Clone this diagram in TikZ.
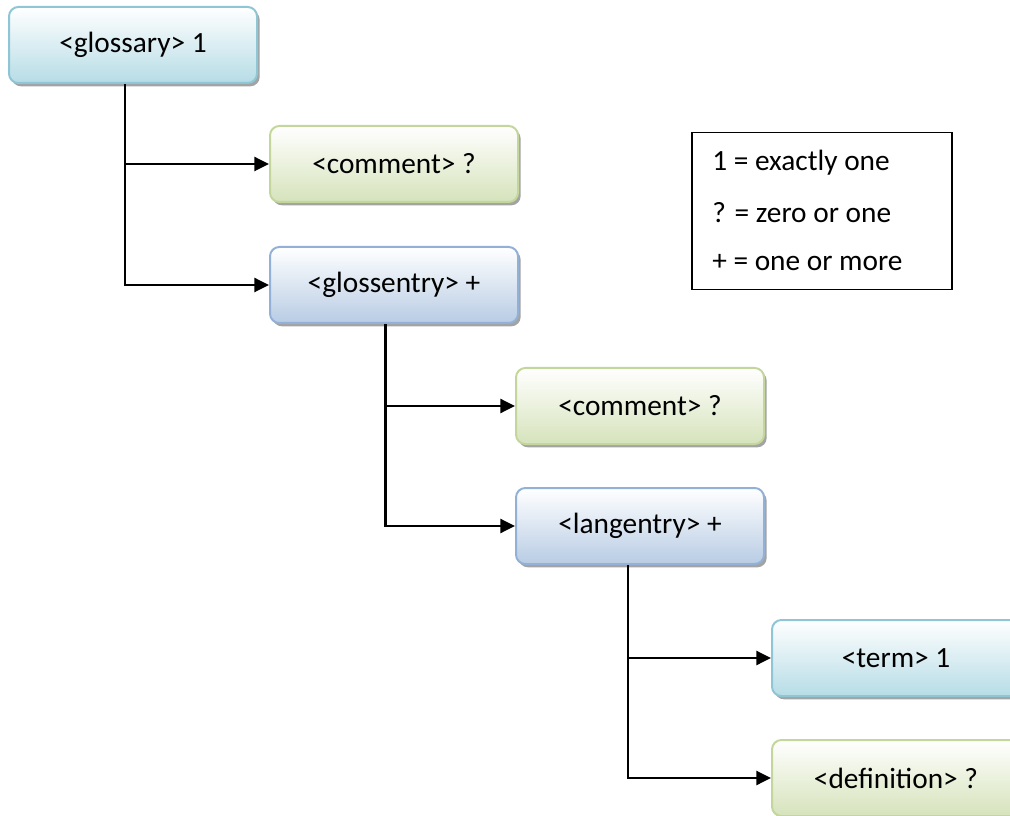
\documentclass[tikz,border=0pt]{standalone}
\usepackage{fontspec}
\setmainfont{Carlito}
\usetikzlibrary{arrows.meta,shadows,calc}
\definecolor{cyanB}{HTML}{8EC6D6}
\definecolor{cyanF}{HTML}{B6DCE6}
\definecolor{greenB}{HTML}{C3D69B}
\definecolor{greenF}{HTML}{D6E3BB}
\definecolor{blueB}{HTML}{93B1D6}
\definecolor{blueF}{HTML}{B8CCE4}
\tikzset{
  box/.style={rounded corners=7pt, minimum width=186pt, minimum height=57pt,
    line width=1.5pt, font=\fontsize{22}{26}\selectfont, inner sep=0pt,
    drop shadow={shadow xshift=2pt, shadow yshift=-2.5pt, fill=black!45, opacity=0.8}},
  cyanbox/.style={box, draw=cyanB, top color=white, bottom color=cyanF},
  greenbox/.style={box, draw=greenB, top color=white, bottom color=greenF},
  bluebox/.style={box, draw=blueB, top color=white, bottom color=blueF},
  conn/.style={line width=1.8pt, -{Triangle[length=11pt,width=10.5pt]}},
  legtext/.style={anchor=west, font=\fontsize{22}{26}\selectfont, inner sep=0pt},
}
\begin{document}
\begin{tikzpicture}[x=0.75pt,y=-0.75pt]
\useasboundingbox (0,0) rectangle (1010,816);
\clip (0,0) rectangle (1010,816);
\node[cyanbox] (g) at (133,45) {<glossary> 1};
\node[greenbox] (c1) at (394,164) {<comment> ?};
\node[bluebox] (ge) at (394,285) {<glossentry> +};
\node[greenbox] (c2) at (640,406) {<comment> ?};
\node[bluebox] (le) at (640,526) {<langentry> +};
\node[cyanbox] (t) at (896,658) {<term> 1};
\node[greenbox] (d) at (896,778) {<definition> ?};

\draw[conn] ([xshift=-6pt]g.south) |- (c1.west);
\draw[conn] ([xshift=-6pt]g.south) |- (ge.west);
\draw[conn] ([xshift=-6.5pt]ge.south) |- (c2.west);
\draw[conn] ([xshift=-6.5pt]ge.south) |- (le.west);
\draw[conn] ([xshift=-9pt]le.south) |- (t.west);
\draw[conn] ([xshift=-9pt]le.south) |- (d.west);

\node[draw=black, line width=1pt, minimum width=195pt, minimum height=118pt, inner sep=0pt] (leg) at (822,211) {};
\node[legtext] (l1) at (712,163) {1 = exactly one};
\node[legtext] (l2) at (712,213) {? = zero or one};
\node[legtext] (l3) at (712,263) {+ = one or more};
\end{tikzpicture}
\end{document}
